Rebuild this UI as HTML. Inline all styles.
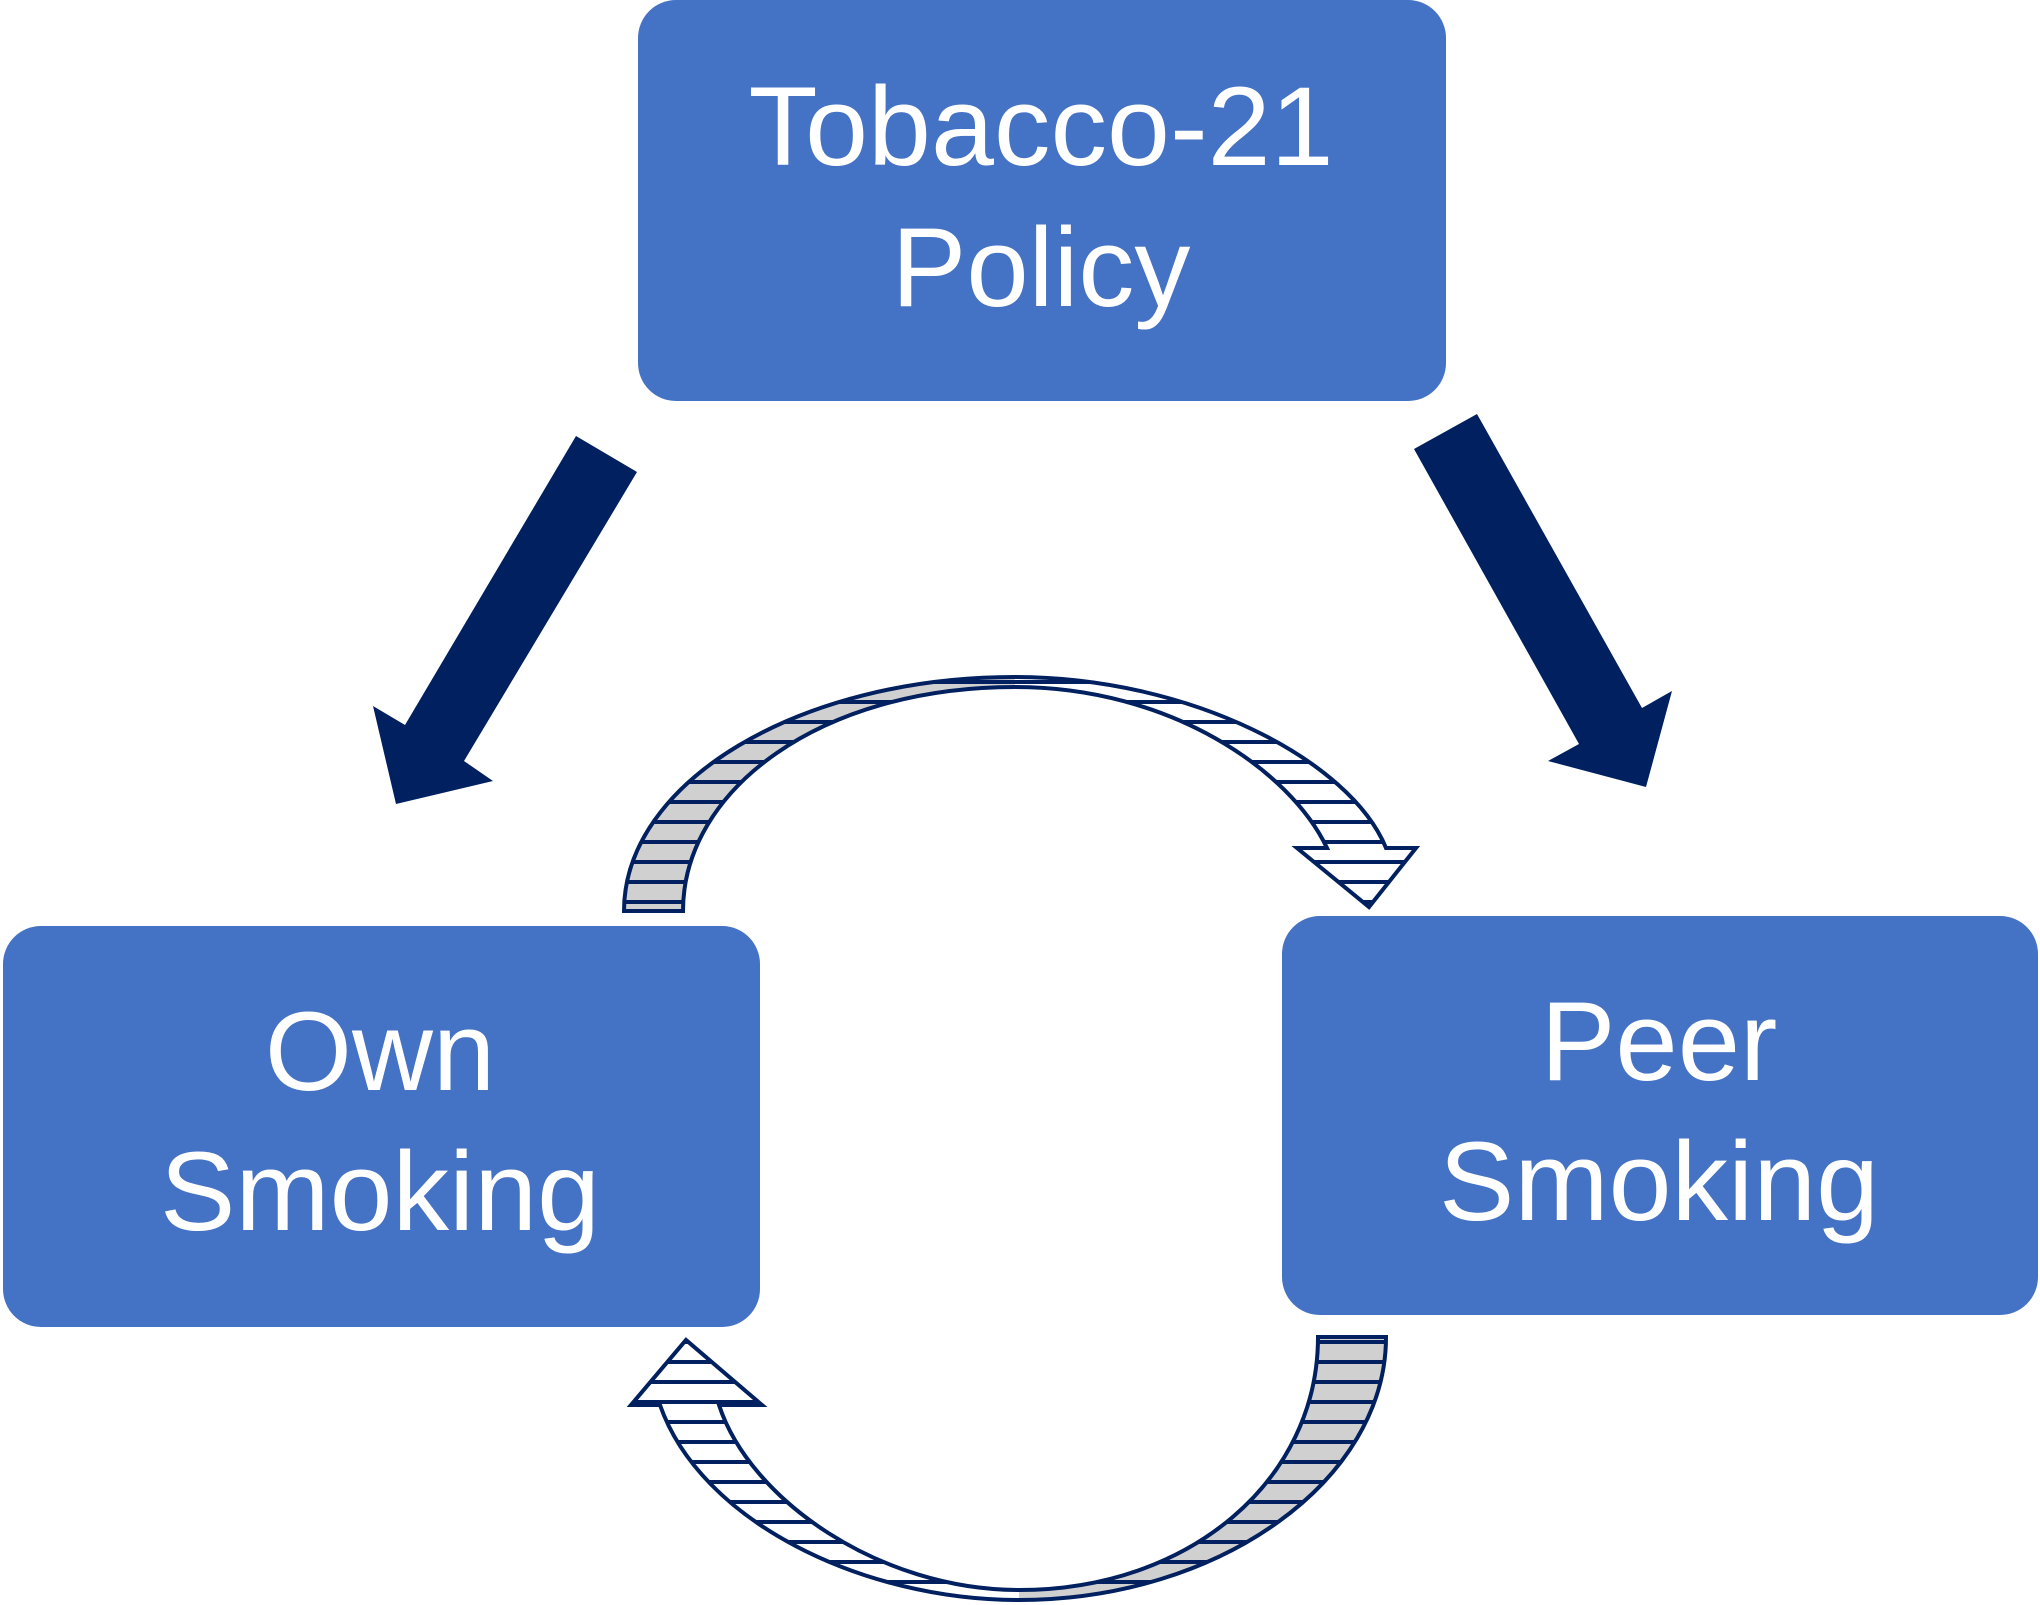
<!DOCTYPE html>
<html><head><meta charset="utf-8"><style>html,body{margin:0;padding:0;background:#fff}svg{display:block}</style></head>
<body>
<svg width="2040" height="1605" viewBox="0 0 2040 1605" xmlns="http://www.w3.org/2000/svg">
<defs>
<pattern id="sg" patternUnits="userSpaceOnUse" width="40" height="20"><rect width="40" height="20" fill="#d0d0d0"/><rect y="0" width="40" height="4" fill="#002060"/></pattern>
<pattern id="sw" patternUnits="userSpaceOnUse" width="40" height="20"><rect width="40" height="20" fill="#fff"/><rect y="0" width="40" height="4" fill="#002060"/></pattern>
<clipPath id="cl"><rect x="0" y="0" width="1015" height="1605"/></clipPath>
<clipPath id="cr"><rect x="1015" y="0" width="1100" height="1605"/></clipPath>
<clipPath id="bl"><rect x="0" y="0" width="1019" height="1605"/></clipPath>
<clipPath id="br"><rect x="1019" y="0" width="1100" height="1605"/></clipPath>
</defs>
<rect x="638" y="0" width="808" height="401" rx="38" fill="#4472C4"/>
<rect x="3" y="926" width="757" height="401" rx="38" fill="#4472C4"/>
<rect x="1282" y="916" width="756" height="399" rx="38" fill="#4472C4"/>
<g font-family="Liberation Sans, sans-serif" fill="#fff" text-anchor="middle" font-size="112">
<text x="1041" y="165" textLength="585" lengthAdjust="spacingAndGlyphs">Tobacco-21</text>
<text x="1041" y="306">Policy</text>
<text x="380" y="1090">Own</text>
<text x="380" y="1230" textLength="440" lengthAdjust="spacingAndGlyphs">Smoking</text>
<text x="1659" y="1080">Peer</text>
<text x="1659" y="1220" textLength="440" lengthAdjust="spacingAndGlyphs">Smoking</text>
</g>
<polygon points="576,436 637,472 464,761 493,781 396,804 373,706 405,725" fill="#002060"/>
<polygon points="1477,414 1642,708 1672,691 1646,787 1548,761 1579,744 1414,449" fill="#002060"/>
<g>
<path d="M624,911 C624,782 799,677 1015,677 C1190,677 1350,760 1386,848 L1416,848 L1369,907 L1297,848 L1327,848 C1290,770 1170,687 1015,687 C820,687 683,790 683,911 Z" fill="url(#sg)" clip-path="url(#cl)"/>
<path d="M624,911 C624,782 799,677 1015,677 C1190,677 1350,760 1386,848 L1416,848 L1369,907 L1297,848 L1327,848 C1290,770 1170,687 1015,687 C820,687 683,790 683,911 Z" fill="url(#sw)" clip-path="url(#cr)"/>
<path d="M624,911 C624,782 799,677 1015,677 C1190,677 1350,760 1386,848 L1416,848 L1369,907 L1297,848 L1327,848 C1290,770 1170,687 1015,687 C820,687 683,790 683,911 Z" fill="none" stroke="#002060" stroke-width="4"/>
</g>
<g>
<path d="M1386,1337 C1386,1480 1220,1600 1019,1600 C860,1600 700,1520 660,1405 L631,1405 L686,1340 L762,1405 L719,1405 C750,1500 880,1590 1019,1590 C1190,1590 1318,1480 1318,1337 Z" fill="url(#sg)" clip-path="url(#br)"/>
<path d="M1386,1337 C1386,1480 1220,1600 1019,1600 C860,1600 700,1520 660,1405 L631,1405 L686,1340 L762,1405 L719,1405 C750,1500 880,1590 1019,1590 C1190,1590 1318,1480 1318,1337 Z" fill="url(#sw)" clip-path="url(#bl)"/>
<path d="M1386,1337 C1386,1480 1220,1600 1019,1600 C860,1600 700,1520 660,1405 L631,1405 L686,1340 L762,1405 L719,1405 C750,1500 880,1590 1019,1590 C1190,1590 1318,1480 1318,1337 Z" fill="none" stroke="#002060" stroke-width="4"/>
</g>
</svg>
</body></html>
